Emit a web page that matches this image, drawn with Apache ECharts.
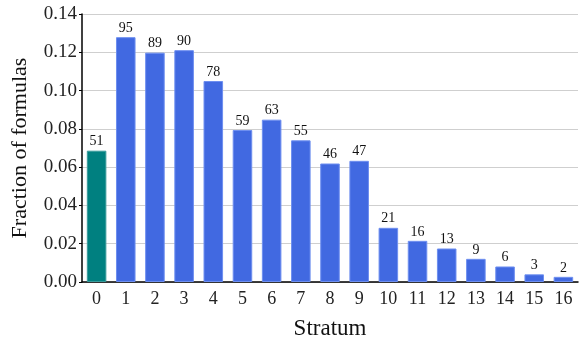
<!DOCTYPE html>
<html><head><meta charset="utf-8">
<script src="https://cdn.jsdelivr.net/npm/echarts@6/dist/echarts.min.js"></script>
<style>html,body{margin:0;padding:0;background:#fff}#c{width:579px;height:339px}</style>
</head><body><div id="c"></div>
<script>
const categories = ['0','1','2','3','4','5','6','7','8','9','10','11','12','13','14','15','16'];
const fractions = [0.0686,0.1279,0.1198,0.1211,0.1050,0.0794,0.0848,0.0740,0.0619,0.0633,0.0283,0.0215,0.0175,0.0121,0.0081,0.0040,0.0027];
const counts = [51,95,89,90,78,59,63,55,46,47,21,16,13,9,6,3,2];
const yTicks = ['0.00','0.02','0.04','0.06','0.08','0.10','0.12','0.14'];

const font = 'Liberation Serif, DejaVu Serif, serif';
const chart = echarts.init(document.getElementById('c'), null, {renderer:'canvas'});
chart.setOption({
  animation:false,
  grid:{left:82,right:1,top:14,bottom:57,containLabel:false,outerBoundsMode:'none'},
  xAxis:{
    type:'category', data:categories,
    name:'Stratum', nameLocation:'middle', nameGap:35,
    nameTextStyle:{fontFamily:font,fontSize:23,color:'#111'},
    axisLine:{lineStyle:{color:'#000',width:1.5}},
    axisTick:{show:false},
    axisLabel:{fontFamily:font,fontSize:18,color:'#222',margin:8}
  },
  yAxis:{
    type:'value', min:0, max:0.14, interval:0.02,
    name:'Fraction of formulas', nameLocation:'middle', nameGap:51,
    nameTextStyle:{fontFamily:font,fontSize:22,color:'#111'},
    axisLine:{show:true,lineStyle:{color:'#000',width:1.5}},
    axisTick:{show:true,length:3,lineStyle:{color:'#000'}},
    axisLabel:{fontFamily:font,fontSize:19,color:'#222',margin:5,
      formatter:(v,i)=>yTicks[Math.round(v/0.02)]},
    splitLine:{show:true,lineStyle:{color:'#cfcfcf',width:1.2}}
  },
  series:[{
    type:'bar', barWidth:'67%',
    data:fractions.map((v,i)=>({value:v,itemStyle:{color:i===0?'#008080':'#4169E1',borderColor:i===0?'#3a9c9c':'#6e8ff0',borderWidth:1}})),
    label:{show:true,position:'top',distance:2,fontFamily:font,fontSize:14,color:'#111',
      formatter:p=>String(counts[p.dataIndex])}
  }]
});
</script></body></html>
